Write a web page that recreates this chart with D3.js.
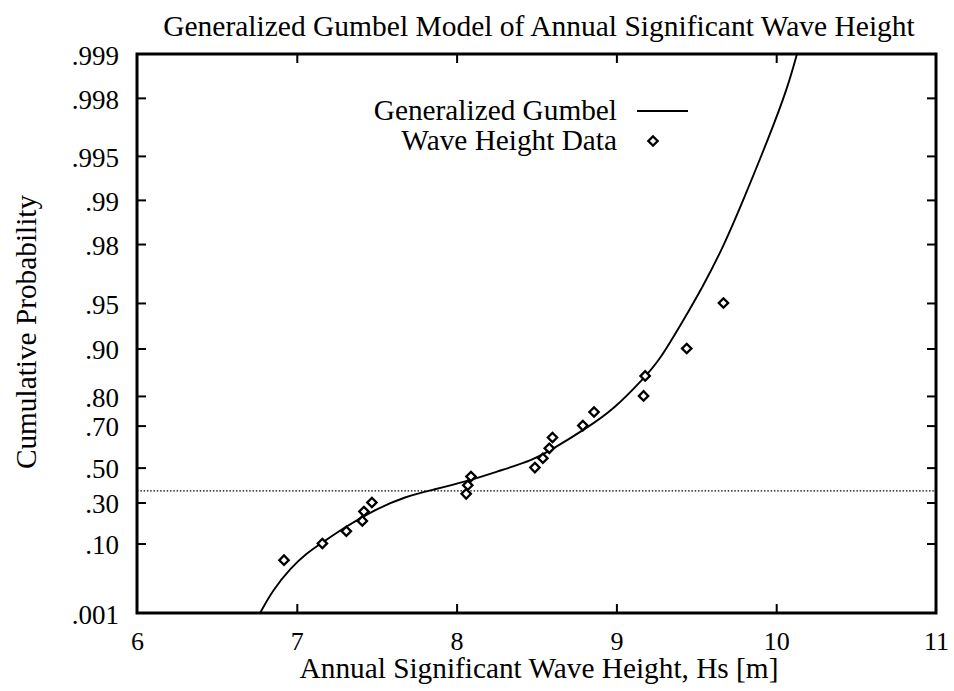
<!DOCTYPE html>
<html>
<head>
<meta charset="utf-8">
<script src="https://cdn.jsdelivr.net/npm/d3@7"></script>
<style>
  body { margin: 0; background: #fff; }
  text { font-family: "Liberation Serif", "Times New Roman", serif; fill: #000; }
</style>
</head>
<body>
<svg id="svg" width="954" height="691"></svg>
<script>
// observed annual maxima, plotted at i/(N+1)
var hsData = [6.92, 7.16, 7.31, 7.41, 7.42, 7.47, 8.06, 8.07, 8.09, 8.49,
              8.54, 8.58, 8.60, 8.79, 8.86, 9.17, 9.18, 9.44, 9.67];
var probData = [0.05, 0.10, 0.15, 0.20, 0.25, 0.30, 0.35, 0.40, 0.45, 0.50,
                0.55, 0.60, 0.65, 0.70, 0.75, 0.80, 0.85, 0.90, 0.95];

// fitted generalized gumbel curve
var curveHs = [6.77, 6.85, 6.96, 7.06, 7.16, 7.27, 7.48, 7.69, 7.85, 8.06, 8.27, 8.48,
               8.61, 8.81, 8.98, 9.18, 9.27, 9.42, 9.54, 9.67, 9.79, 9.96, 10.07, 10.13];
var curveProb = [0.001, 0.0082, 0.033, 0.068, 0.103, 0.154, 0.258, 0.338, 0.373, 0.421, 0.483, 0.541,
                 0.600, 0.689, 0.757, 0.848, 0.881, 0.935, 0.961, 0.9792, 0.9897, 0.9964, 0.99828, 0.999];

var xTicks = [6, 7, 8, 9, 10, 11];
var yTickProbs = [0.999, 0.998, 0.995, 0.99, 0.98, 0.95, 0.90, 0.80, 0.70, 0.50, 0.30, 0.10, 0.001];
var yTickLabels = [".999", ".998", ".995", ".99", ".98", ".95", ".90", ".80", ".70", ".50", ".30", ".10", ".001"];

var plotLeft = 137, plotRight = 936, plotTop = 54, plotBottom = 613;

// gumbel reduced variate
function gumbel(p){
  return -Math.log(-Math.log(p));
}

var x = d3.scaleLinear().domain([6, 11]).range([plotLeft, plotRight]);
var yLin = d3.scaleLinear().domain([gumbel(0.001), gumbel(0.999)]).range([plotBottom, plotTop]);
function y(p){
  return yLin(gumbel(p));
}

var svg = d3.select("#svg");

svg.append("defs").append("clipPath").attr("id", "plot")
  .append("rect")
  .attr("x", plotLeft).attr("y", plotTop)
  .attr("width", plotRight - plotLeft).attr("height", plotBottom - plotTop);

// y = 0 reference line (p = 1/e)
svg.append("line")
  .attr("x1", plotLeft).attr("x2", plotRight)
  .attr("y1", yLin(0)).attr("y2", yLin(0))
  .attr("stroke", "#000")
  .attr("stroke-width", 1.2)
  .attr("stroke-dasharray", "1.5,1.8");

// axes, ticks pointing inward
var gBottom = svg.append("g").attr("transform", "translate(0," + plotBottom + ")")
  .call(d3.axisBottom(x).tickValues(xTicks).tickFormat(d3.format("d"))
    .tickSizeInner(-9).tickSizeOuter(0).tickPadding(19));
gBottom.selectAll("text").style("font-size", "26px");

var gTop = svg.append("g").attr("transform", "translate(0," + plotTop + ")")
  .call(d3.axisTop(x).tickValues([7, 8, 9, 10]).tickFormat("")
    .tickSizeInner(-9).tickSizeOuter(0));

var gLeft = svg.append("g").attr("transform", "translate(" + plotLeft + ",0)")
  .call(d3.axisLeft(yLin).tickValues(yTickProbs.map(gumbel))
    .tickFormat(function(d, i){ return yTickLabels[i]; })
    .tickSizeInner(-9).tickSizeOuter(0).tickPadding(18));
gLeft.selectAll("text").style("font-size", "27px").attr("dy", "0.38em");

var gRight = svg.append("g").attr("transform", "translate(" + plotRight + ",0)")
  .call(d3.axisRight(yLin).tickValues(yTickProbs.slice(1, -1).map(gumbel)).tickFormat("")
    .tickSizeInner(-9).tickSizeOuter(0));

[gBottom, gTop, gLeft, gRight].forEach(function(g){
  g.select(".domain").remove();
  g.selectAll(".tick line").attr("stroke", "#000").attr("stroke-width", 2);
  g.selectAll("text").style("font-family", "'Liberation Serif', 'Times New Roman', serif").attr("fill", "#000");
});
// no inner tick at the corners
gBottom.selectAll(".tick line").filter(function(d){ return d === 6 || d === 11; }).remove();
gLeft.selectAll(".tick line").filter(function(d, i){ return i === 0 || i === yTickProbs.length - 1; }).remove();

// frame
svg.append("rect")
  .attr("x", plotLeft).attr("y", plotTop)
  .attr("width", plotRight - plotLeft).attr("height", plotBottom - plotTop)
  .attr("fill", "none")
  .attr("stroke", "#000")
  .attr("stroke-width", 3);

// fitted curve
var line = d3.line()
  .x(function(d){ return x(d[0]); })
  .y(function(d){ return y(d[1]); })
  .curve(d3.curveBasis);

svg.append("path")
  .datum(d3.zip(curveHs, curveProb))
  .attr("clip-path", "url(#plot)")
  .attr("d", line)
  .attr("fill", "none")
  .attr("stroke", "#000")
  .attr("stroke-width", 1.9);

// data points as open diamonds
var diamond = d3.symbol().type(d3.symbolSquare).size(44);

svg.selectAll(".point").data(d3.zip(hsData, probData)).enter()
  .append("path")
  .classed("point", true)
  .attr("d", diamond)
  .attr("transform", function(d){
    return "translate(" + x(d[0]) + "," + y(d[1]) + ") rotate(45)";
  })
  .attr("fill", "#fff")
  .attr("stroke", "#000")
  .attr("stroke-width", 2.3);

// legend
var legend = svg.append("g").style("font-size", "29.3px");
legend.append("text").attr("x", 617).attr("y", 120).attr("text-anchor", "end").text("Generalized Gumbel");
legend.append("text").attr("x", 617).attr("y", 150).attr("text-anchor", "end").text("Wave Height Data");
legend.append("line")
  .attr("x1", 637).attr("x2", 688).attr("y1", 111).attr("y2", 111)
  .attr("stroke", "#000").attr("stroke-width", 1.9);
legend.append("path")
  .attr("d", diamond)
  .attr("transform", "translate(653,141) rotate(45)")
  .attr("fill", "#fff").attr("stroke", "#000").attr("stroke-width", 2.3);

// titles
svg.append("text")
  .attr("x", 539).attr("y", 36)
  .attr("text-anchor", "middle")
  .style("font-size", "29.5px")
  .text("Generalized Gumbel Model of Annual Significant Wave Height");

svg.append("text")
  .attr("x", 539).attr("y", 678)
  .attr("text-anchor", "middle")
  .style("font-size", "29.3px")
  .text("Annual Significant Wave Height, Hs [m]");

svg.append("text")
  .attr("transform", "translate(36,332) rotate(-90)")
  .attr("text-anchor", "middle")
  .style("font-size", "29.3px")
  .text("Cumulative Probability");
</script>
</body>
</html>
